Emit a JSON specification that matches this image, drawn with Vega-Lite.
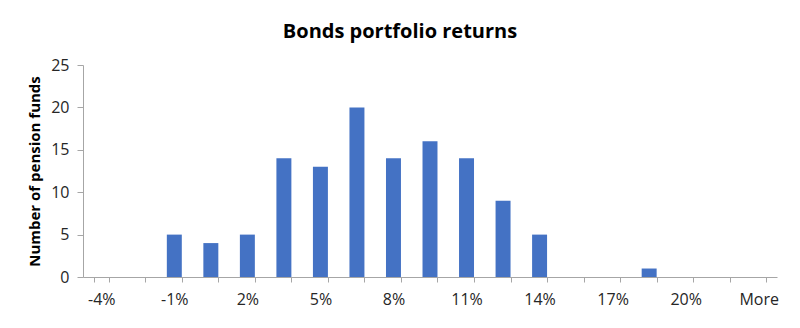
{
  "$schema": "https://vega.github.io/schema/vega-lite/v6.json",
  "width": 694,
  "height": 212,
  "autosize": "none",
  "padding": {"left": 83, "top": 65, "right": 23, "bottom": 51},
  "background": "white",
  "title": {
    "text": "Bonds portfolio returns",
    "font": "Open Sans",
    "fontSize": 20,
    "fontWeight": "bold",
    "color": "#000000",
    "anchor": "middle",
    "dx": -30,
    "offset": 15
  },
  "data": {
    "values": [
      {"bin": "-4%", "count": 0},
      {"bin": "-2.5%", "count": 0},
      {"bin": "-1%", "count": 5},
      {"bin": "0.5%", "count": 4},
      {"bin": "2%", "count": 5},
      {"bin": "3.5%", "count": 14},
      {"bin": "5%", "count": 13},
      {"bin": "6.5%", "count": 20},
      {"bin": "8%", "count": 14},
      {"bin": "9.5%", "count": 16},
      {"bin": "11%", "count": 14},
      {"bin": "12.5%", "count": 9},
      {"bin": "14%", "count": 5},
      {"bin": "15.5%", "count": 0},
      {"bin": "17%", "count": 0},
      {"bin": "18.5%", "count": 1},
      {"bin": "20%", "count": 0},
      {"bin": "21.5%", "count": 0},
      {"bin": "More", "count": 0}
    ]
  },
  "mark": {"type": "bar", "color": "#4472C4"},
  "encoding": {
    "x": {
      "field": "bin",
      "type": "ordinal",
      "sort": null,
      "scale": {"paddingInner": 0.59, "paddingOuter": 0.295},
      "axis": {
        "title": null,
        "labelAngle": 0,
        "labelFont": "Open Sans",
        "labelFontSize": 16,
        "labelColor": "#262626",
        "labelPadding": 9,
        "labelExpr": "indexof(['-4%','-1%','2%','5%','8%','11%','14%','17%','20%','More'], datum.value) >= 0 ? datum.value : ''",
        "tickBand": "extent",
        "tickSize": 5,
        "tickColor": "#A6A6A6",
        "domainColor": "#A6A6A6",
        "grid": false
      }
    },
    "y": {
      "field": "count",
      "type": "quantitative",
      "scale": {"domain": [0, 25]},
      "axis": {
        "title": "Number of pension funds",
        "titleFont": "Open Sans",
        "titleFontSize": 15,
        "titleFontWeight": "bold",
        "titleColor": "#000000",
        "titlePadding": 8,
        "values": [0, 5, 10, 15, 20, 25],
        "labelFont": "Open Sans",
        "labelFontSize": 16,
        "labelColor": "#262626",
        "labelPadding": 8,
        "tickSize": 6,
        "tickColor": "#A6A6A6",
        "domainColor": "#A6A6A6",
        "grid": false
      }
    }
  },
  "config": {"view": {"stroke": null}}
}
